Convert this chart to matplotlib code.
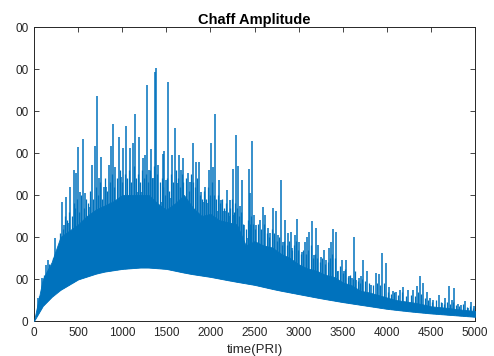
import numpy as np
import matplotlib
matplotlib.use('Agg')
import matplotlib.pyplot as plt

plt.rcParams['font.family'] = ['Liberation Sans', 'DejaVu Sans']

LINE_COLOR = '#0072BD'
AX_COLOR = '#262626'

# lower edge of the clutter band (time in PRI, amplitude in tick units)
env_t = [0, 50, 100, 250, 500, 750, 1000, 1250, 1500, 1750, 2000, 2250, 2500,
         2750, 3000, 3250, 3500, 3750, 4000, 4250, 4500, 4750, 5000]
env_low = [0.0, 0.18, 0.36, 0.68, 0.99, 1.16, 1.24, 1.28, 1.24, 1.13, 1.05, 0.95, 0.86,
           0.74, 0.64, 0.54, 0.45, 0.37, 0.29, 0.23, 0.18, 0.14, 0.10]

# top of the near-solid part of the band
band_t = list(range(0, 5001, 100))
band_top = [0.0, 1.0, 1.4, 2.0, 2.15, 2.3, 2.5, 2.65, 2.75, 2.85, 3.0, 3.0, 3.0, 3.0,
            2.8, 2.65, 2.8, 3.0, 2.7, 2.5, 2.55, 2.4, 2.35, 2.3, 1.8, 1.9, 1.8,
            1.75, 1.6, 1.5, 1.35, 1.25, 1.2, 1.1, 1.05, 0.92, 0.85, 0.72, 0.68, 0.62,
            0.56, 0.5, 0.47, 0.44, 0.4, 0.35, 0.33, 0.31, 0.28, 0.26, 0.24]

# tall peaks
spike_t = [49, 94, 132, 159, 189, 234, 253, 283, 314, 340, 367, 389, 412, 442, 457,
           480, 495, 518, 556, 578, 597, 624, 654, 688, 718, 737, 760, 793, 816, 846,
           869, 892, 918, 960, 990, 1012, 1043, 1088, 1118, 1141, 1171, 1190, 1209,
           1232, 1255, 1278, 1300, 1323, 1349, 1368, 1387, 1410, 1436, 1459, 1474,
           1501, 1516, 1542, 1565, 1595, 1618, 1644, 1663, 1686, 1705, 1743, 1769,
           1799, 1818, 1837, 1867, 1894, 1913, 1939, 1962, 1981, 2003, 2030, 2056,
           2075, 2094, 2117, 2140, 2166, 2185, 2208, 2226, 2253, 2272, 2291, 2310,
           2336, 2362, 2385, 2412, 2438, 2453, 2476, 2499, 2522, 2559, 2597, 2624,
           2654, 2680, 2707, 2741, 2763, 2797, 2824, 2850, 2877, 2911, 2930, 2960,
           2986, 3009, 3036, 3073, 3100, 3123, 3149, 3172, 3198, 3225, 3255, 3285,
           3315, 3342, 3368, 3395, 3421, 3451, 3489, 3512, 3542, 3572, 3603, 3629,
           3655, 3682, 3705, 3727, 3773, 3822, 3875, 3913, 3943, 3988, 4030, 4067,
           4105, 4151, 4188, 4245, 4302, 4340, 4377, 4408, 4453, 4491, 4529, 4593,
           4631, 4661, 4702, 4737, 4767, 4805, 4842, 4888, 4926, 4960, 4994]
spike_v = [0.54, 1.02, 1.33, 1.45, 1.21, 1.97, 1.41, 1.63, 2.84, 2.29, 2.96, 2.33, 3.20,
           2.05, 3.60, 3.52, 4.14, 3.08, 4.33, 3.04, 2.05, 2.72, 3.71, 4.17, 5.36,
           3.40, 3.91, 3.20, 3.20, 3.71, 4.17, 4.69, 3.67, 4.39, 3.44, 4.11, 4.64,
           4.12, 4.25, 4.93, 3.08, 4.39, 3.08, 3.87, 3.95, 5.62, 3.60, 4.09, 3.40,
           5.94, 6.02, 3.71, 2.84, 3.97, 4.05, 3.36, 5.68, 2.92, 3.95, 4.59, 3.28,
           3.95, 3.60, 3.87, 2.92, 3.52, 3.32, 4.23, 2.25, 3.79, 3.79, 3.08, 2.84,
           3.20, 2.80, 3.60, 4.25, 3.67, 4.94, 2.61, 3.36, 2.89, 2.61, 2.61, 3.12,
           2.49, 2.89, 3.61, 2.53, 4.43, 3.69, 2.74, 3.36, 2.29, 1.97, 3.61, 3.04,
           4.29, 2.53, 2.29, 2.41, 2.72, 2.53, 2.21, 2.09, 2.68, 2.62, 2.05, 3.36,
           1.89, 2.41, 2.09, 2.13, 1.73, 2.05, 2.44, 1.89, 1.65, 1.89, 2.01, 2.13,
           2.38, 1.57, 2.21, 1.81, 1.53, 1.69, 1.45, 1.73, 1.89, 2.19, 2.11, 1.18,
           1.45, 1.18, 1.46, 1.06, 1.02, 2.01, 0.98, 1.02, 1.06, 1.45, 1.18, 0.86,
           1.15, 1.12, 1.63, 1.37, 0.80, 0.72, 0.70, 0.75, 0.80, 0.74, 0.75, 0.83,
           1.07, 0.90, 0.68, 0.54, 0.51, 0.62, 0.42, 0.54, 0.83, 0.50, 0.78, 0.40,
           0.38, 0.48, 0.30, 0.45, 0.36]

# the ragged fringe between the tall peaks
fringe_t = [60, 110, 145, 175, 210, 245, 268, 298, 327, 353, 378, 400, 427, 450, 468,
            488, 507, 537, 567, 587, 610, 640, 671, 703, 728, 748, 776, 805, 831, 857,
            880, 905, 939, 975, 1001, 1027, 1056, 1075, 1103, 1130, 1156, 1180, 1200,
            1220, 1244, 1266, 1289, 1311, 1336, 1358, 1398, 1423, 1447, 1466, 1488,
            1508, 1529, 1553, 1580, 1606, 1631, 1653, 1674, 1695, 1724, 1756, 1784,
            1808, 1827, 1852, 1880, 1903, 1926, 1950, 1971, 1992, 2016, 2043, 2065,
            2085, 2105, 2128, 2153, 2175, 2196, 2217, 2240, 2262, 2281, 2300, 2323,
            2349, 2373, 2398, 2425, 2445, 2465, 2488, 2510, 2540, 2578, 2610, 2639,
            2667, 2693, 2724, 2752, 2780, 2810, 2837, 2863, 2894, 2920, 2945, 2973,
            2997, 3022, 3054, 3086, 3111, 3136, 3160, 3185, 3211, 3240, 3270, 3300,
            3328, 3355, 3381, 3408, 3436, 3470, 3500, 3527, 3557, 3587, 3616, 3642,
            3668, 3693, 3716, 3750, 3797, 3848, 3894, 3928, 3965, 4009, 4048, 4086,
            4128, 4170, 4216, 4273, 4321, 4358, 4392, 4430, 4472, 4510, 4561, 4612,
            4646, 4681, 4720, 4752, 4786, 4823, 4865, 4907, 4943, 4977]
fringe_v = [0.6, 1.1, 1.2, 1.35, 1.5, 1.6, 1.7, 2.1, 2.2, 2.5, 2.4, 2.6, 2.5, 2.8, 2.7,
            2.9, 2.6, 3.0, 2.7, 2.9, 2.8, 3.1, 2.9, 3.2, 3.0, 3.3, 2.9, 3.4, 3.1, 3.3,
            3.5, 3.2, 3.4, 3.6, 3.3, 3.5, 3.4, 3.6, 3.3, 3.7, 3.4, 3.5, 3.3,
            3.6, 3.4, 3.5, 3.3, 3.6, 3.4, 3.7, 3.5, 3.3, 3.4, 3.2, 3.0,
            3.4, 3.1, 3.5, 3.3, 3.6, 3.4, 3.2, 3.5, 3.3, 3.4, 3.1, 3.5,
            3.3, 3.2, 3.4, 3.0, 2.9, 3.1, 2.9, 3.2, 3.0, 3.3, 3.0, 2.9,
            3.0, 2.8, 2.9, 2.7, 2.8, 2.6, 2.7, 2.9, 2.6, 2.8, 2.7, 2.5,
            2.6, 2.3, 2.2, 2.4, 2.3, 2.5, 2.3, 2.2, 2.3, 2.2, 2.3, 2.1,
            2.0, 2.2, 2.1, 1.9, 2.0, 1.8, 1.9, 1.8, 1.9, 1.7, 1.8, 1.9,
            1.7, 1.6, 1.7, 1.6, 1.7, 1.8, 1.5, 1.6, 1.5, 1.4, 1.5, 1.35,
            1.4, 1.5, 1.6, 1.5, 1.2, 1.3, 1.15, 1.25, 1.05, 1.1, 1.0, 1.2,
            0.95, 0.9, 1.0, 0.95, 0.9, 0.85, 0.9, 0.85, 0.9, 0.7, 0.65, 0.68,
            0.62, 0.7, 0.6, 0.62, 0.6, 0.7, 0.65, 0.55, 0.5, 0.45, 0.5, 0.45,
            0.4, 0.45, 0.4, 0.45, 0.38, 0.35, 0.4, 0.33, 0.36, 0.3]

x_ticks = list(range(0, 5001, 500))
y_ticks = list(range(0, 8))
y_labels = ['0', '00', '00', '00', '00', '00', '00', '00']

fig = plt.figure(figsize=(4.94, 3.56), dpi=100)
ax = fig.add_axes([34 / 494, 35 / 356, 441 / 494, 294 / 356])

ax.vlines(spike_t, 0, spike_v, color=LINE_COLOR, linewidth=1.1, zorder=1)
ax.vlines(fringe_t, 0, fringe_v, color=LINE_COLOR, linewidth=0.9, zorder=1)
ax.fill_between(env_t, 0, env_low, color='white', linewidth=0, zorder=2)
ax.fill_between(band_t, np.interp(band_t, env_t, env_low), band_top,
                color=LINE_COLOR, linewidth=0.6, edgecolor=LINE_COLOR, zorder=3)

ax.set_xlim(0, 5000)
ax.set_ylim(0, 7)
ax.set_xticks(x_ticks)
ax.set_yticks(y_ticks)
ax.set_yticklabels(y_labels)

ax.tick_params(direction='in', length=3.5, width=0.6, colors=AX_COLOR,
               labelsize=8.5, pad=4, top=True, right=True)
for sp in ax.spines.values():
    sp.set_color(AX_COLOR)
    sp.set_linewidth(0.7)

ax.set_title('Chaff Amplitude', fontsize=10.5, fontweight='bold', pad=2)
ax.set_xlabel('time(PRI)', fontsize=9.5, color=AX_COLOR, labelpad=4)

fig.savefig('out.png', dpi=100)
